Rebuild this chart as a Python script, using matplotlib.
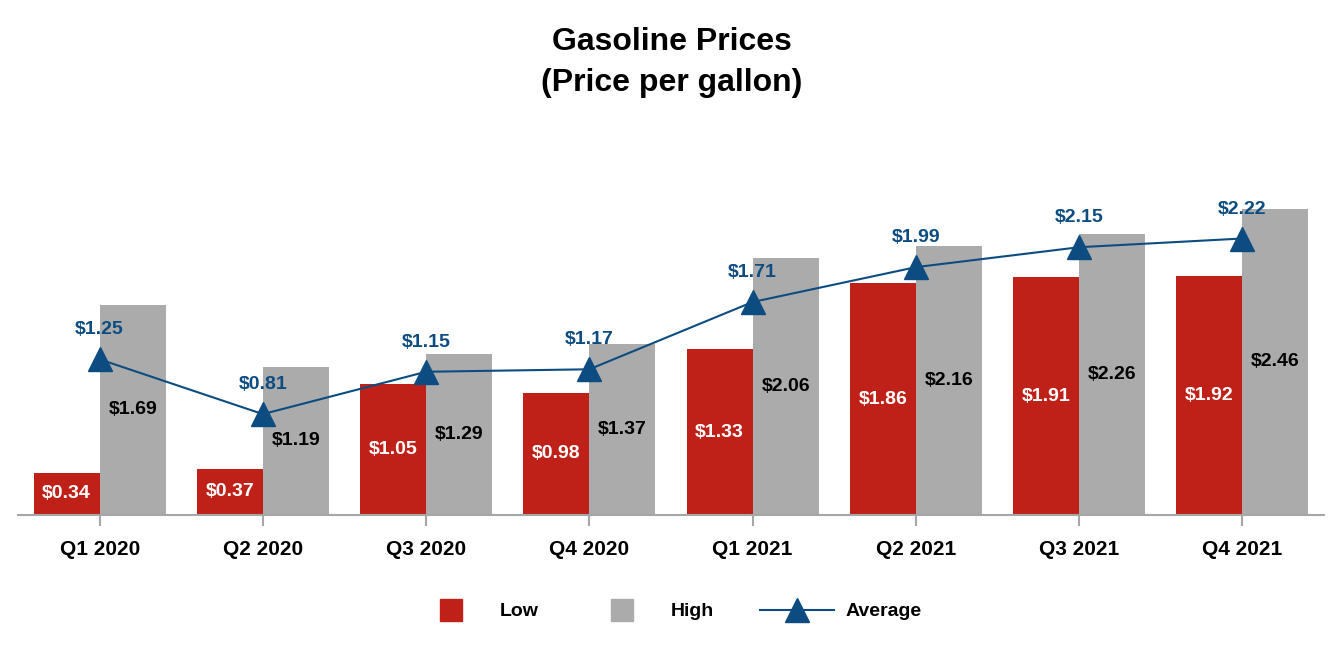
import matplotlib.pyplot as plt
import numpy as np
from matplotlib.lines import Line2D

plt.rcParams['font.family'] = ['Liberation Sans', 'DejaVu Sans']
plt.rcParams['font.weight'] = 'bold'

quarters = ["Q1 2020", "Q2 2020", "Q3 2020", "Q4 2020",
            "Q1 2021", "Q2 2021", "Q3 2021", "Q4 2021"]
low = [0.34, 0.37, 1.05, 0.98, 1.33, 1.86, 1.91, 1.92]
high = [1.69, 1.19, 1.29, 1.37, 2.06, 2.16, 2.26, 2.46]
average = [1.25, 0.81, 1.15, 1.17, 1.71, 1.99, 2.15, 2.22]

red = "#BF2118"
grey = "#ABABAB"
blue = "#0D4C81"

fig = plt.figure(figsize=(13.44, 6.52), dpi=100)
ax = fig.add_axes([18 / 1344, 137 / 652, 1306 / 1344, 345 / 652])

x = np.arange(len(quarters))
w = 0.405
ax.bar(x - w / 2, low, w, color=red)
ax.bar(x + w / 2, high, w, color=grey)
ax.plot(x, average, color=blue, lw=1.5, marker="^", markersize=17)

for i in range(len(x)):
    ax.text(x[i] - w / 2, low[i] / 2, f"${low[i]:.2f}", ha="center", va="center",
            color="white", fontsize=14, fontweight="bold")
    ax.text(x[i] + w / 2, high[i] / 2, f"${high[i]:.2f}", ha="center", va="center",
            color="black", fontsize=14, fontweight="bold")
    ax.annotate(f"${average[i]:.2f}", (x[i], average[i]), xytext=(0, 15),
                textcoords="offset points", ha="center", va="bottom",
                color=blue, fontsize=14, fontweight="bold")

ax.set_xlim(-0.5, 7.5)
ax.set_ylim(0, 2.77)
for s in ["top", "right", "left"]:
    ax.spines[s].set_visible(False)
ax.spines["bottom"].set_color("#A6A6A6")
ax.spines["bottom"].set_linewidth(1.5)
ax.set_yticks([])
ax.set_xticks(x)
ax.set_xticklabels(quarters, fontsize=15, fontweight="bold")
ax.tick_params(axis="x", length=8, width=1.5, color="#A6A6A6", pad=10)

fig.text(0.5, 0.958, "Gasoline Prices\n(Price per gallon)", ha="center", va="top",
         fontsize=23, fontweight="bold", linespacing=1.45)

handles = [Line2D([], [], ls="none", marker="s", markersize=16.5, color=red),
           Line2D([], [], ls="none", marker="s", markersize=16.5, color=grey),
           Line2D([], [], color=blue, lw=1.5, marker="^", markersize=17)]
fig.legend(handles, ["Low", "High", "Average"], loc="center", bbox_to_anchor=(0.497, 0.062),
           ncol=3, frameon=False, fontsize=14, handlelength=3.8, handletextpad=0.6,
           columnspacing=2.4)

fig.savefig("out.png", dpi=100)
